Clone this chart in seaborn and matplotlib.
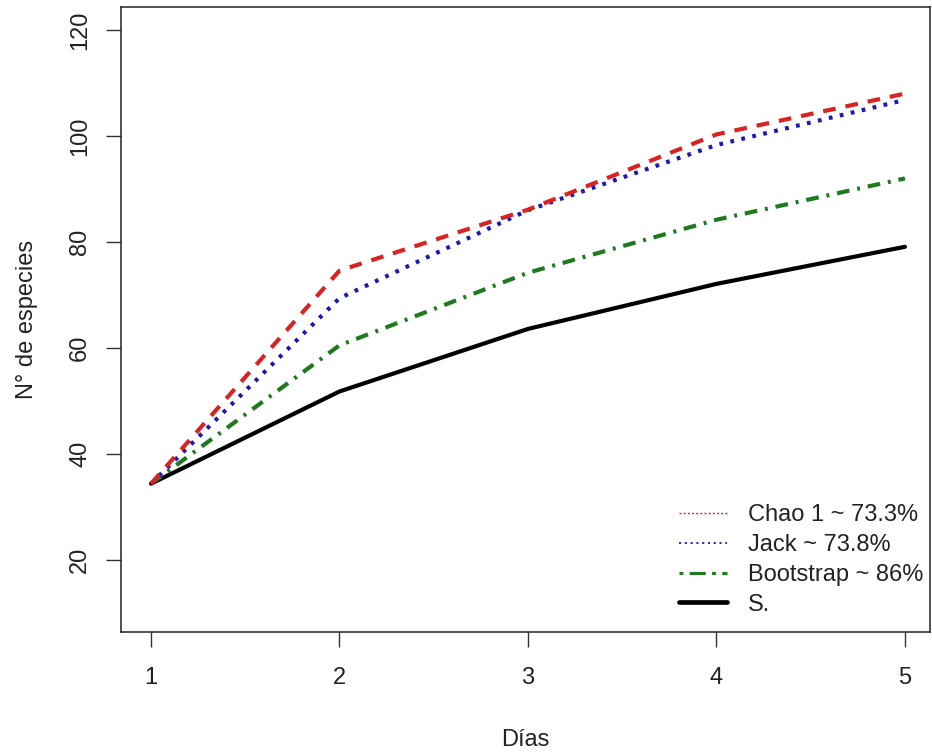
import matplotlib
matplotlib.use("Agg")
import matplotlib.pyplot as plt
from matplotlib.lines import Line2D
import seaborn as sns
import pandas as pd

dias = [1, 2, 3, 4, 5]
chao1 = [34.4, 74.6, 86.1, 100.3, 108.0]
jack = [34.4, 69.4, 86.0, 98.3, 106.8]
bootstrap = [34.4, 60.5, 74.2, 84.2, 92.0]
s_obs = [34.4, 51.8, 63.6, 72.1, 79.1]

labels = ["Chao 1 ~ 73.3%", "Jack ~ 73.8%", "Bootstrap ~ 86%", "S."]
xticks = [1, 2, 3, 4, 5]
yticks = [20, 40, 60, 80, 100, 120]

sns.set_style("white")
plt.rcParams["font.family"] = ["Liberation Sans", "DejaVu Sans"]

df = pd.DataFrame({"dias": dias, "chao": chao1, "jack": jack,
                   "boot": bootstrap, "s": s_obs})

fig = plt.figure(figsize=(9.32, 7.53), dpi=100)
ax = fig.add_axes([121 / 932, 1 - 632 / 753, (930 - 121) / 932, (632 - 7) / 753])

red = "#DA2222"
blue = "#1A1AB0"
green = "#1F7A1F"

lw = 3.0
sns.lineplot(data=df, x="dias", y="s", ax=ax, color="black", lw=lw, legend=False)
sns.lineplot(data=df, x="dias", y="boot", ax=ax, color=green, lw=lw, legend=False)
sns.lineplot(data=df, x="dias", y="jack", ax=ax, color=blue, lw=lw, legend=False)
sns.lineplot(data=df, x="dias", y="chao", ax=ax, color=red, lw=lw, legend=False)

lines = ax.get_lines()
lines[1].set_dashes([3.05, 1.9, 0.7, 1.9])
lines[2].set_dashes([0.9, 1.8])
lines[3].set_dashes([3.05, 2.4])
for ln in lines:
    ln.set_solid_capstyle("round")

ax.set_xlim(0.841, 5.133)
ax.set_ylim(6.42, 124.34)
ax.set_xticks(xticks)
ax.set_yticks(yticks)
ax.set_xticklabels([str(v) for v in xticks])
ax.set_yticklabels([str(v) for v in yticks], rotation=90, va="center")

fs = 17
txt = "#222222"
ax.tick_params(axis="x", length=11, width=1.0, color="#333333", pad=14,
               labelsize=fs, labelcolor=txt, bottom=True)
ax.tick_params(axis="y", length=10.5, width=1.0, color="#333333", pad=11,
               labelsize=fs, labelcolor=txt, left=True)
for sp in ax.spines.values():
    sp.set_visible(True)
    sp.set_color("#222222")
    sp.set_linewidth(1.1)

ax.set_xlabel("Días", fontsize=fs, color=txt)
ax.set_ylabel("N° de especies", fontsize=fs, color=txt)
ax.xaxis.set_label_coords(0.5, -0.155)
ax.yaxis.set_label_coords(-0.103, 0.5)

handles = [
    Line2D([], [], color=red, lw=1.0, linestyle=(0, (1.5, 1.5))),
    Line2D([], [], color=blue, lw=1.3, linestyle=(0, (1.2, 2.0))),
    Line2D([], [], color=green, lw=2.3, linestyle=(0, (1.2, 2.0, 5.0, 2.0))),
    Line2D([], [], color="black", lw=3.4),
]
leg = ax.legend(handles, labels, loc="lower right", frameon=False,
                fontsize=fs, handlelength=2.0, handletextpad=0.9,
                labelspacing=0.33, bbox_to_anchor=(1.018, -0.008),
                labelcolor=txt)

fig.savefig("out.png", dpi=100)
